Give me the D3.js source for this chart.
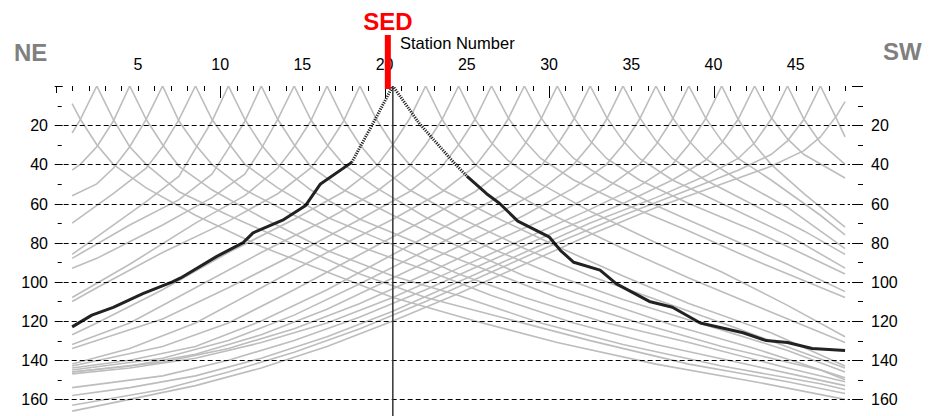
<!DOCTYPE html>
<html>
<head>
<meta charset="utf-8">
<script src="https://cdn.jsdelivr.net/npm/d3@7"></script>
<style>
body { margin: 0; background: #fff; }
svg { display: block; font-family: "Liberation Sans", Arial, sans-serif; }
</style>
</head>
<body>
<div id="chart"></div>
<script>
// Station axis labels and time (ms) grid values
var stationLabels = [5, 10, 15, 20, 25, 30, 35, 40, 45];
var stationTicks = d3.range(0, 49);
var timeLabels = [20, 40, 60, 80, 100, 120, 140, 160];
var timeMinor = [10, 30, 50, 70, 90, 110, 130, 150];

// SED shot position and its first-break picks [station, ms]
var sedStation = 20.5;
var sedLeft = [[1,123],[2.2,117],[3.5,113],[5.3,106],[7.1,100],[7.6,98],[9.8,87],[11.4,80],[12,75],[13.8,68.5],[15.2,61],[16.1,50],[18,39]];
var sedNear = [[18,39],[19.3,19],[20.5,0],[22.1,19],[24.2,39],[25,46]];
var sedRight = [[25,46],[26.2,55],[27,60],[28.1,69],[30,77],[30.7,84],[31.5,90],[33.1,94],[34.1,101],[36.1,110],[37.5,113],[39.2,121],[41.8,126],[43.2,130],[44.5,131],[46,134],[48,135]];

// Other shots, first-break picks [station, ms]
var shot0_5 = [[1,9],[1.5,17],[2.5,30],[3.5,40],[5.5,52],[8.5,66],[12.5,82],[16.5,95],[20.5,108],[25.5,120],[30.5,131],[36.5,142],[42.5,151],[48,160]];
var shot2_5 = [[1,24],[1.5,17],[2.5,0],[3.5,17],[4.5,31],[5.5,40],[7.5,54],[10.5,66],[14.5,81],[18.5,96],[22.5,108],[27.5,119],[32.5,130],[38.5,142],[44.5,151],[48,157]];
var shot4_5 = [[1,43],[1.5,40],[2.5,31],[3.5,18],[4.5,0],[5.5,17],[6.5,30],[7.5,41],[9.5,53],[12.5,67],[16.5,84],[20.5,97],[24.5,107],[29.5,121],[34.5,132],[40.5,143],[46.5,152],[48,155]];
var shot6_5 = [[1,56],[2.5,50],[3.5,42],[4.5,31],[5.5,17],[6.5,0],[7.5,18],[8.5,30],[9.5,40],[11.5,53],[14.5,66],[18.5,82],[22.5,94],[26.5,107],[31.5,121],[36.5,132],[42.5,143],[48,153]];
var shot8_5 = [[1,70],[3.5,55],[5.5,42],[6.5,31],[7.5,17],[8.5,0],[9.5,17],[10.5,29],[11.5,40],[13.5,52],[16.5,67],[20.5,81],[24.5,96],[28.5,108],[33.5,121],[38.5,131],[44.5,144],[48,151]];
var shot10_5 = [[1,86],[2.5,77],[5.5,59],[7.5,46],[8.5,32],[9.5,18],[10.5,0],[11.5,17],[12.5,30],[13.5,40],[15.5,53],[18.5,68],[22.5,82],[26.5,95],[30.5,108],[35.5,121],[40.5,133],[46.5,145],[48,150]];
var shot12_5 = [[1,88],[4.5,71],[7.5,58],[9.5,45],[10.5,32],[11.5,18],[12.5,0],[13.5,17],[14.5,30],[15.5,41],[17.5,53],[20.5,66],[24.5,82],[28.5,97],[32.5,108],[37.5,122],[42.5,134],[48,149]];
var shot14_5 = [[1,93],[2.5,88],[6.5,71],[9.5,57],[11.5,45],[12.5,32],[13.5,17],[14.5,0],[15.5,17],[16.5,30],[17.5,40],[19.5,52],[22.5,67],[26.5,83],[30.5,97],[34.5,109],[39.5,122],[44.5,135],[48,146]];
var shot16_5 = [[1,108],[4.5,91],[8.5,70],[11.5,56],[13.5,42],[14.5,31],[15.5,18],[16.5,0],[17.5,17],[18.5,30],[19.5,40],[21.5,53],[24.5,67],[28.5,83],[32.5,97],[36.5,109],[41.5,124],[48,144]];
var shot18_5 = [[1,110],[2.5,103],[6.5,85],[10.5,69],[13.5,55],[15.5,42],[16.5,31],[17.5,18],[18.5,0],[19.5,17],[20.5,30],[21.5,40],[23.5,53],[26.5,66],[30.5,82],[34.5,97],[38.5,111],[43.5,126],[48,143]];
var shot22_5 = [[1,127],[2.5,121],[6.5,104],[10.5,85],[14.5,68],[17.5,54],[19.5,41],[20.5,30],[21.5,17],[22.5,0],[23.5,17],[24.5,30],[25.5,40],[27.5,53],[30.5,67],[34.5,83],[38.5,98],[42.5,112],[48,131]];
var shot24_5 = [[1,132],[4.5,121],[8.5,103],[12.5,85],[16.5,68],[19.5,54],[21.5,41],[22.5,30],[23.5,17],[24.5,0],[25.5,17],[26.5,29],[27.5,38],[29.5,50],[32.5,64],[36.5,80],[40.5,95],[44.5,112],[48,128]];
var shot26_5 = [[1,134],[6.5,119],[10.5,103],[14.5,86],[18.5,68],[21.5,54],[23.5,41],[24.5,30],[25.5,17],[26.5,0],[27.5,16],[28.5,28],[29.5,37],[31.5,48],[34.5,60],[38.5,74],[42.5,89],[48,108]];
var shot28_5 = [[1,142],[4.5,134],[8.5,121],[12.5,103],[16.5,85],[20.5,68],[23.5,54],[25.5,41],[26.5,30],[27.5,17],[28.5,0],[29.5,16],[30.5,28],[31.5,37],[33.5,48],[36.5,61],[40.5,76],[44.5,91],[48,105]];
var shot30_5 = [[1,143],[6.5,133],[10.5,121],[14.5,104],[18.5,86],[22.5,68],[25.5,54],[27.5,41],[28.5,30],[29.5,17],[30.5,0],[31.5,16],[32.5,28],[33.5,37],[35.5,48],[38.5,60],[42.5,74],[48,96]];
var shot32_5 = [[1,144],[4.5,140],[8.5,133],[12.5,120],[16.5,104],[20.5,86],[24.5,68],[27.5,54],[29.5,41],[30.5,30],[31.5,17],[32.5,0],[33.5,16],[34.5,28],[35.5,37],[37.5,48],[40.5,60],[44.5,76],[48,93]];
var shot34_5 = [[1,145],[6.5,139],[10.5,130],[14.5,117],[18.5,101],[22.5,84],[26.5,67],[29.5,53],[31.5,40],[32.5,30],[33.5,17],[34.5,0],[35.5,16],[36.5,28],[37.5,37],[39.5,48],[42.5,61],[45.5,74],[48,86]];
var shot36_5 = [[1,146],[4.5,143],[8.5,137],[12.5,127],[16.5,114],[20.5,98],[24.5,82],[28.5,66],[31.5,52],[33.5,40],[34.5,30],[35.5,17],[36.5,0],[37.5,16],[38.5,28],[39.5,37],[41.5,48],[44.5,62],[48,83]];
var shot38_5 = [[1,146],[6.5,141],[10.5,134],[14.5,124],[18.5,111],[22.5,96],[26.5,80],[30.5,65],[33.5,52],[35.5,40],[36.5,30],[37.5,17],[38.5,0],[39.5,16],[40.5,28],[41.5,37],[43.5,48],[46.5,66],[48,76]];
var shot40_5 = [[1,147],[4.5,144],[8.5,139],[12.5,131],[16.5,121],[20.5,108],[24.5,93],[28.5,78],[32.5,63],[35.5,51],[37.5,40],[38.5,30],[39.5,17],[40.5,0],[41.5,17],[42.5,30],[43.5,40],[45.5,55],[48,72]];
var shot42_5 = [[1,154],[6.5,148],[10.5,140],[14.5,130],[18.5,118],[22.5,104],[26.5,89],[30.5,74],[34.5,60],[37.5,48],[39.5,38],[40.5,29],[41.5,17],[42.5,0],[43.5,16],[44.5,27],[45.5,35],[48,47]];
var shot44_5 = [[1,158],[4.5,154],[8.5,148],[12.5,139],[16.5,128],[20.5,115],[24.5,100],[28.5,85],[32.5,70],[36.5,57],[39.5,46],[41.5,37],[42.5,29],[43.5,17],[44.5,0],[45.5,17],[46.5,29],[48,40]];
var shot46_5 = [[1,163],[6.5,155],[10.5,146],[14.5,136],[18.5,124],[22.5,110],[26.5,95],[30.5,80],[34.5,66],[38.5,53],[41.5,43],[43.5,35],[44.5,28],[45.5,17],[46.5,0],[47.5,17],[48,26]];
var shot48_5 = [[1,166],[4.5,160],[8.5,153],[12.5,144],[16.5,133],[20.5,120],[24.5,106],[28.5,91],[32.5,76],[36.5,62],[40.5,50],[43.5,41],[45.5,33],[46.5,26],[47.5,15],[48,8]];

var otherShots = [shot0_5, shot2_5, shot4_5, shot6_5, shot8_5, shot10_5, shot12_5, shot14_5, shot16_5, shot18_5,
                  shot22_5, shot24_5, shot26_5, shot28_5, shot30_5, shot32_5, shot34_5, shot36_5, shot38_5,
                  shot40_5, shot42_5, shot44_5, shot46_5, shot48_5];

var W = 931, H = 416;
var plotLeft = 55.7, plotRight = 850, plotTop = 86;

var x = d3.scaleLinear().domain([0, 48.3]).range([plotLeft, plotRight]);
var y = d3.scaleLinear().domain([0, 168.5]).range([plotTop, H]);

var svg = d3.select("#chart").append("svg")
    .attr("width", W)
    .attr("height", H);

svg.append("defs").append("clipPath")
    .attr("id", "plotclip")
    .append("rect")
    .attr("x", plotLeft)
    .attr("y", plotTop)
    .attr("width", plotRight - plotLeft)
    .attr("height", H - plotTop);

var line = d3.line()
    .x(function(d) { return x(d[0]); })
    .y(function(d) { return y(d[1]); });

var plot = svg.append("g").attr("clip-path", "url(#plotclip)");

// gray first-break curves of all the other shots
plot.append("g").selectAll("path")
    .data(otherShots)
    .enter().append("path")
    .attr("d", line)
    .attr("fill", "none")
    .attr("stroke", "#bdbdbd")
    .attr("stroke-width", 1.6);

// dashed grid
svg.append("g").selectAll("line")
    .data(timeLabels)
    .enter().append("line")
    .attr("x1", plotLeft)
    .attr("x2", plotRight)
    .attr("y1", function(d) { return Math.round(y(d)) + 0.5; })
    .attr("y2", function(d) { return Math.round(y(d)) + 0.5; })
    .attr("stroke", "#000")
    .attr("stroke-width", 1)
    .attr("stroke-dasharray", "5,3");

// SED shot vertical line
svg.append("line")
    .attr("x1", x(sedStation))
    .attr("x2", x(sedStation))
    .attr("y1", plotTop)
    .attr("y2", H)
    .attr("stroke", "#333")
    .attr("stroke-width", 1.5);

// SED picks, near part is drawn dotted
plot.append("path")
    .attr("d", line(sedNear))
    .attr("fill", "none")
    .attr("stroke", "#222")
    .attr("stroke-width", 3)
    .attr("stroke-dasharray", "1.2,1.2");

plot.selectAll(".sed")
    .data([sedLeft, sedRight])
    .enter().append("path")
    .attr("class", "sed")
    .attr("d", line)
    .attr("fill", "none")
    .attr("stroke", "#222")
    .attr("stroke-width", 3)
    .attr("stroke-linejoin", "round");

// top station ticks
svg.append("g").selectAll("line")
    .data(stationTicks)
    .enter().append("line")
    .attr("x1", function(d) { return Math.round(x(d)) + 0.5; })
    .attr("x2", function(d) { return Math.round(x(d)) + 0.5; })
    .attr("y1", plotTop)
    .attr("y2", function(d) { return d === 0 ? plotTop + 7 : (d % 10 === 0 ? plotTop + 12 : plotTop + 5); })
    .attr("stroke", "#000")
    .attr("stroke-width", 1);

svg.append("g").selectAll("text")
    .data(stationLabels)
    .enter().append("text")
    .attr("x", function(d) { return x(d); })
    .attr("y", 70)
    .attr("text-anchor", "middle")
    .style("font-size", "16px")
    .text(function(d) { return d; });

svg.append("text")
    .attr("x", 400)
    .attr("y", 49)
    .style("font-size", "16.5px")
    .text("Station Number");

// left and right time axes
var timeMajor = [0].concat(timeLabels);

svg.append("g").selectAll("line")
    .data(timeMajor)
    .enter().append("line")
    .attr("x1", plotLeft - 1)
    .attr("x2", plotLeft + 7)
    .attr("y1", function(d) { return Math.round(y(d)) + 0.5; })
    .attr("y2", function(d) { return Math.round(y(d)) + 0.5; })
    .attr("stroke", "#000");

svg.append("g").selectAll("line")
    .data(timeMajor)
    .enter().append("line")
    .attr("x1", plotRight + 2)
    .attr("x2", plotRight + 13)
    .attr("y1", function(d) { return Math.round(y(d)) + 0.5; })
    .attr("y2", function(d) { return Math.round(y(d)) + 0.5; })
    .attr("stroke", "#000");

svg.append("g").selectAll("line")
    .data(timeMinor)
    .enter().append("line")
    .attr("x1", plotLeft + 2)
    .attr("x2", plotLeft + 6)
    .attr("y1", function(d) { return Math.round(y(d)) + 0.5; })
    .attr("y2", function(d) { return Math.round(y(d)) + 0.5; })
    .attr("stroke", "#000");

svg.append("g").selectAll("line")
    .data(timeMinor)
    .enter().append("line")
    .attr("x1", plotRight + 8)
    .attr("x2", plotRight + 13)
    .attr("y1", function(d) { return Math.round(y(d)) + 0.5; })
    .attr("y2", function(d) { return Math.round(y(d)) + 0.5; })
    .attr("stroke", "#000");

svg.append("g").selectAll("text")
    .data(timeLabels)
    .enter().append("text")
    .attr("x", 48)
    .attr("y", function(d) { return y(d) + 6; })
    .attr("text-anchor", "end")
    .style("font-size", "16px")
    .text(function(d) { return d; });

svg.append("g").selectAll("text")
    .data(timeLabels)
    .enter().append("text")
    .attr("x", 871)
    .attr("y", function(d) { return y(d) + 6; })
    .style("font-size", "16px")
    .text(function(d) { return d; });

// SED marker
svg.append("rect")
    .attr("x", x(sedStation) - 8)
    .attr("y", 35)
    .attr("width", 6)
    .attr("height", 54)
    .attr("fill", "#ff0000");

svg.append("text")
    .attr("x", x(sedStation) - 5)
    .attr("y", 30)
    .attr("text-anchor", "middle")
    .style("font-size", "24px")
    .style("font-weight", "bold")
    .attr("fill", "#ff0000")
    .text("SED");

// direction labels
svg.append("text")
    .attr("x", 14)
    .attr("y", 61)
    .style("font-size", "24px")
    .style("font-weight", "bold")
    .attr("fill", "#808080")
    .text("NE");

svg.append("text")
    .attr("x", 883)
    .attr("y", 60)
    .style("font-size", "24px")
    .style("font-weight", "bold")
    .attr("fill", "#808080")
    .text("SW");
</script>
</body>
</html>
